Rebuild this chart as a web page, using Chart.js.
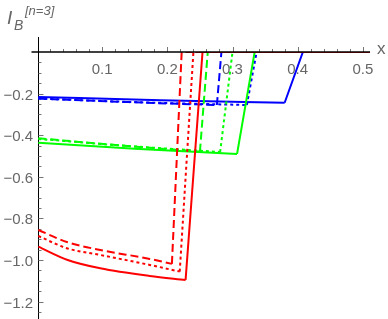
<!DOCTYPE html>
<html lang="en">
<head>
  <meta charset="UTF-8">
  <title>I_B n=3</title>
  <script src="https://cdn.jsdelivr.net/npm/chart.js"></script>
  <style>
    body { margin: 0; background: #fff; }
    #wrap { width: 388px; height: 319px; position: relative; }
  </style>
</head>
<body>
  <div id="wrap"><canvas id="ibChart"></canvas></div>

  <script>
    // values (x, I_B); each curve drops, jumps up to 0, then stays at 0
    const redSolidX   = [0.002, 0.047, 0.097, 0.173, 0.228, 0.254, 0.511];
    const redSolidY   = [-0.936, -1.0, -1.04, -1.077, -1.096, 0, 0];
    const redDashX    = [0.002, 0.047, 0.097, 0.173, 0.207, 0.222, 0.511];
    const redDashY    = [-0.856, -0.915, -0.952, -0.995, -1.019, 0, 0];
    const redDotX     = [0.002, 0.047, 0.097, 0.173, 0.219, 0.240, 0.511];
    const redDotY     = [-0.885, -0.945, -0.976, -1.024, -1.056, 0, 0];

    const greenSolidX = [0.002, 0.15, 0.307, 0.334, 0.511];
    const greenSolidY = [-0.436, -0.465, -0.49, 0, 0];
    const greenDashX  = [0.002, 0.13, 0.25, 0.262, 0.511];
    const greenDashY  = [-0.415, -0.45, -0.479, 0, 0];
    const greenDotX   = [0.002, 0.14, 0.281, 0.300, 0.511];
    const greenDotY   = [-0.418, -0.452, -0.481, 0, 0];

    const blueSolidX  = [0.002, 0.19, 0.380, 0.408, 0.511];
    const blueSolidY  = [-0.216, -0.232, -0.244, 0, 0];
    const blueDashX   = [0.002, 0.14, 0.276, 0.283, 0.511];
    const blueDashY   = [-0.224, -0.241, -0.255, 0, 0];
    const blueDotX    = [0.002, 0.16, 0.322, 0.337, 0.511];
    const blueDotY    = [-0.224, -0.242, -0.255, 0, 0];

    const xTicks = [0.1, 0.2, 0.3, 0.4, 0.5];
    const yTicks = [-0.2, -0.4, -0.6, -0.8, -1.0, -1.2];

    const DASH = [8, 4], DOT = [3, 3];

    // smooth part up to the lowest point, straight jump and flat part after it
    function series(xs, ys, color, dash) {
      const pts = xs.map((x, i) => ({ x, y: ys[i] }));
      const k = ys.indexOf(0) - 1;
      const base = { borderColor: color, borderWidth: 2, borderDash: dash, pointRadius: 0, fill: false };
      return [
        { ...base, data: pts.slice(0, k + 1), cubicInterpolationMode: 'monotone' },
        { ...base, data: pts.slice(k), tension: 0 }
      ];
    }

    // axes drawn Mathematica style: x axis at y = 0, ticks inward
    const axesPlugin = {
      id: 'mmaAxes',
      beforeDatasetsDraw(chart) {
        const { ctx, chartArea, scales: { x, y } } = chart;
        const y0 = Math.round(y.getPixelForValue(0));
        const xl = Math.round(chartArea.left) + 0.5;
        ctx.save();
        ctx.strokeStyle = '#000';
        ctx.lineWidth = 1;
        ctx.beginPath();
        ctx.moveTo(xl, y0 - 15); ctx.lineTo(xl, chartArea.bottom);
        ctx.stroke();

        ctx.strokeStyle = '#777';
        ctx.beginPath();
        for (let k = 1; k <= 25; k++) {
          const px = Math.round(x.getPixelForValue(k * 0.02)) + 0.5;
          const len = k % 5 === 0 ? 5 : 3;
          ctx.moveTo(px, y0); ctx.lineTo(px, y0 - len);
        }
        for (let k = 1; k <= 25; k++) {
          const py = Math.round(y.getPixelForValue(-k * 0.05)) + 0.5;
          const len = k % 4 === 0 ? 5 : 3;
          ctx.moveTo(xl, py); ctx.lineTo(xl + len, py);
        }
        ctx.stroke();
        ctx.restore();
      },
      afterDatasetsDraw(chart) {
        const { ctx, chartArea, scales: { y } } = chart;
        const y0 = Math.round(y.getPixelForValue(0));
        const xl = Math.round(chartArea.left) + 0.5;
        ctx.save();
        ctx.strokeStyle = '#000';
        ctx.lineWidth = 1.5;
        ctx.beginPath();
        ctx.moveTo(xl - 7, y0); ctx.lineTo(chartArea.right, y0);
        ctx.stroke();
        ctx.restore();
      },
      afterDraw(chart) {
        const { ctx, scales: { x, y } } = chart;
        const y0 = y.getPixelForValue(0);
        ctx.save();
        ctx.fillStyle = '#666';
        ctx.font = '15px "Liberation Sans", Arial, sans-serif';
        ctx.textAlign = 'center';
        ctx.textBaseline = 'top';
        xTicks.forEach(v => ctx.fillText(v.toFixed(1), x.getPixelForValue(v), y0 + 10));
        ctx.textAlign = 'right';
        ctx.textBaseline = 'middle';
        yTicks.forEach(v => ctx.fillText('\u2212' + Math.abs(v).toFixed(1), 33, y.getPixelForValue(v) + 2));

        ctx.textAlign = 'left';
        ctx.font = '17px "Liberation Sans", Arial, sans-serif';
        ctx.fillText('x', 377, y0 - 3);

        ctx.font = 'italic 19px "Liberation Sans", Arial, sans-serif';
        ctx.textBaseline = 'alphabetic';
        ctx.fillText('I', 7, 24);
        ctx.font = 'italic 14px "Liberation Sans", Arial, sans-serif';
        ctx.fillText('B', 14, 30);
        ctx.font = 'italic 13px "Liberation Sans", Arial, sans-serif';
        ctx.fillText('[n=3]', 25, 15);
        ctx.restore();
      }
    };

    new Chart(document.getElementById('ibChart').getContext('2d'), {
      type: 'line',
      data: {
        datasets: [
          ...series(redDashX, redDashY, '#ff0000', DASH),
          ...series(redDotX, redDotY, '#ff0000', DOT),
          ...series(redSolidX, redSolidY, '#ff0000', []),
          ...series(greenDashX, greenDashY, '#00ff00', DASH),
          ...series(greenDotX, greenDotY, '#00ff00', DOT),
          ...series(greenSolidX, greenSolidY, '#00ff00', []),
          ...series(blueDashX, blueDashY, '#0000ff', DASH),
          ...series(blueDotX, blueDotY, '#0000ff', DOT),
          ...series(blueSolidX, blueSolidY, '#0000ff', [])
        ]
      },
      options: {
        responsive: true,
        maintainAspectRatio: false,
        animation: false,
        layout: { padding: { left: 38, right: 18, top: 52, bottom: 0 } },
        scales: {
          x: { type: 'linear', min: 0.0015, max: 0.511, display: false },
          y: { type: 'linear', min: -1.284, max: 0, display: false }
        },
        plugins: { legend: { display: false }, tooltip: { enabled: false } }
      },
      plugins: [axesPlugin]
    });
  </script>
</body>
</html>
